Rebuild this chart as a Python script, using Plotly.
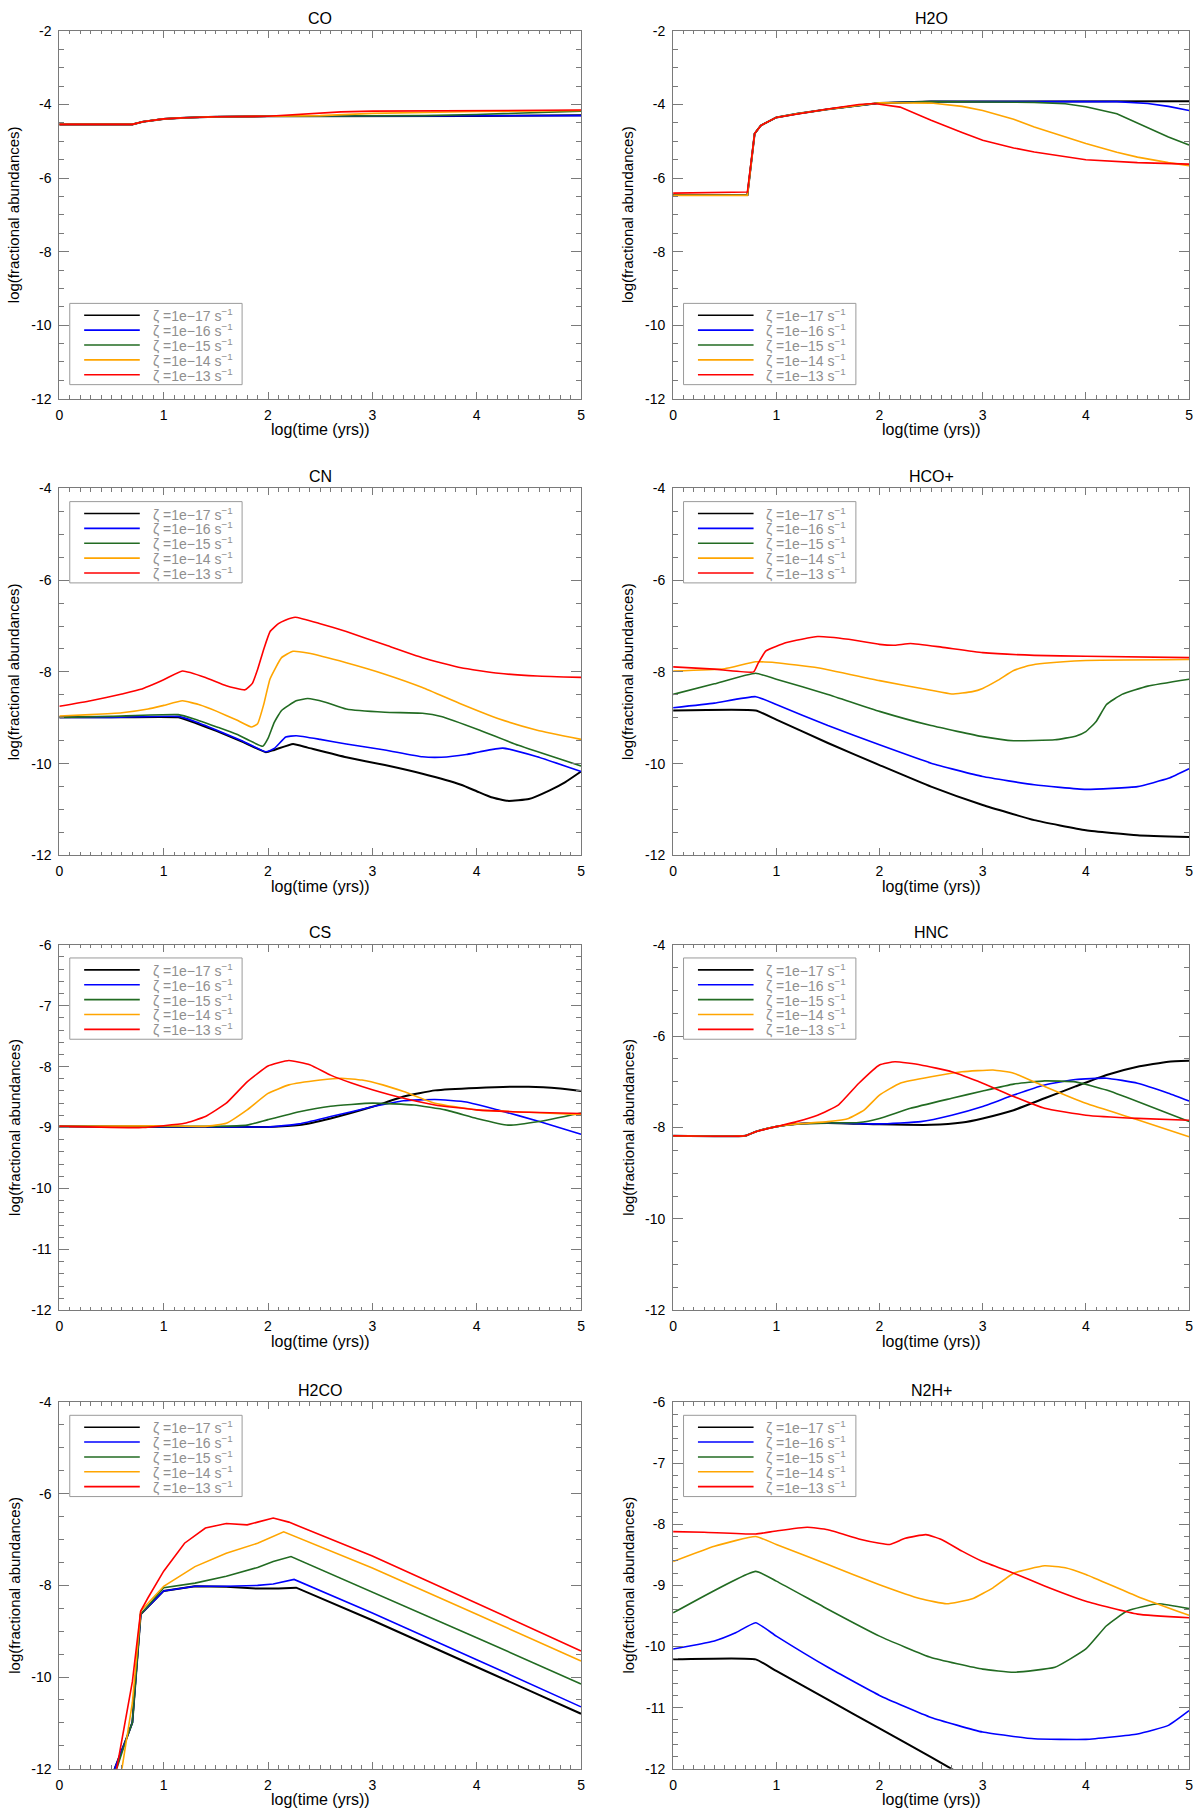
import plotly.graph_objects as go

# ---------------- data (log time [yr] , log fractional abundance) ----------------
# zeta = 1e-17, 1e-16, 1e-15, 1e-14, 1e-13 s^-1
CO_T17 = [0, 0.7, 0.8, 0.9, 1.0, 1.2, 1.5, 2.0, 3.0, 4.0, 5.0]
CO_Y17 = [-4.54, -4.54, -4.47, -4.42, -4.39, -4.36, -4.33, -4.32, -4.32, -4.31, -4.29]
CO_T16 = [0, 0.7, 0.8, 0.9, 1.0, 1.2, 1.5, 2.0, 3.0, 4.0, 5.0]
CO_Y16 = [-4.54, -4.54, -4.47, -4.42, -4.39, -4.36, -4.33, -4.32, -4.32, -4.31, -4.30]
CO_T15 = [0, 0.7, 0.8, 0.9, 1.0, 1.2, 1.5, 2.0, 2.5, 3.0, 3.5, 4.0, 4.5, 5.0]
CO_Y15 = [-4.54, -4.54, -4.47, -4.42, -4.39, -4.36, -4.33, -4.32, -4.32, -4.31, -4.30, -4.27, -4.23, -4.18]
CO_T14 = [0, 0.7, 0.8, 0.9, 1.0, 1.2, 1.5, 2.0, 2.5, 3.0, 3.5, 4.0, 5.0]
CO_Y14 = [-4.54, -4.54, -4.47, -4.42, -4.39, -4.36, -4.33, -4.32, -4.30, -4.24, -4.21, -4.19, -4.16]
CO_T13 = [0, 0.7, 0.8, 0.9, 1.0, 1.2, 1.5, 2.0, 2.3, 2.7, 3.0, 4.0, 5.0]
CO_Y13 = [-4.54, -4.54, -4.47, -4.42, -4.39, -4.36, -4.33, -4.32, -4.26, -4.20, -4.18, -4.16, -4.15]

H2O_T17 = [0, 0.72, 0.79, 0.85, 1.0, 1.2, 1.5, 1.8, 2.0, 2.5, 5.0]
H2O_Y17 = [-6.46, -6.46, -4.79, -4.57, -4.35, -4.25, -4.13, -4.02, -3.96, -3.92, -3.91]
H2O_T16 = [0, 0.72, 0.79, 0.85, 1.0, 1.2, 1.5, 1.8, 2.0, 2.5, 4.3, 4.6, 4.8, 5.0]
H2O_Y16 = [-6.46, -6.46, -4.79, -4.57, -4.35, -4.25, -4.13, -4.02, -3.96, -3.92, -3.92, -3.97, -4.05, -4.16]
H2O_T15 = [0, 0.72, 0.79, 0.85, 1.0, 1.2, 1.5, 1.8, 2.0, 2.5, 3.5, 3.8, 4.0, 4.3, 4.6, 4.8, 5.0]
H2O_Y15 = [-6.46, -6.46, -4.79, -4.57, -4.35, -4.25, -4.13, -4.02, -3.96, -3.92, -3.94, -3.98, -4.06, -4.25, -4.62, -4.88, -5.10]
H2O_T14 = [0, 0.72, 0.79, 0.85, 1.0, 1.2, 1.5, 1.8, 2.0, 2.5, 2.8, 3.0, 3.3, 3.5, 3.8, 4.0, 4.3, 4.5, 4.8, 5.0]
H2O_Y14 = [-6.47, -6.47, -4.79, -4.57, -4.35, -4.25, -4.13, -4.02, -3.95, -3.96, -4.05, -4.16, -4.40, -4.61, -4.88, -5.06, -5.30, -5.43, -5.58, -5.66]
H2O_T13 = [0, 0.72, 0.79, 0.85, 1.0, 1.2, 1.5, 1.8, 1.95, 2.2, 2.5, 2.8, 3.0, 3.3, 3.5, 4.0, 4.5, 5.0]
H2O_Y13 = [-6.41, -6.38, -4.79, -4.57, -4.35, -4.25, -4.12, -4.00, -3.97, -4.07, -4.43, -4.76, -4.97, -5.18, -5.29, -5.50, -5.58, -5.62]

CN_T17 = [0, 0.5, 1.14, 1.3, 1.51, 1.75, 1.98, 2.06, 2.24, 2.38, 2.75, 3.12, 3.48, 3.85, 4.0, 4.14, 4.3, 4.5, 4.7, 4.85, 5.0]
CN_Y17 = [-8.99, -8.99, -8.99, -9.11, -9.29, -9.52, -9.75, -9.70, -9.57, -9.65, -9.86, -10.03, -10.22, -10.46, -10.60, -10.73, -10.81, -10.77, -10.58, -10.40, -10.17]
CN_T16 = [0, 0.5, 1.14, 1.3, 1.51, 1.75, 1.98, 2.06, 2.17, 2.27, 2.5, 2.75, 3.12, 3.48, 3.66, 3.9, 4.03, 4.25, 4.58, 5.0]
CN_Y16 = [-8.99, -8.99, -8.97, -9.08, -9.27, -9.50, -9.74, -9.67, -9.42, -9.39, -9.47, -9.57, -9.70, -9.85, -9.86, -9.80, -9.74, -9.66, -9.85, -10.17]
CN_T15 = [0, 0.5, 1.14, 1.3, 1.51, 1.7, 1.95, 2.0, 2.06, 2.13, 2.27, 2.38, 2.55, 2.75, 3.12, 3.48, 3.66, 4.03, 4.4, 5.0]
CN_Y15 = [-8.99, -8.97, -8.93, -9.03, -9.20, -9.36, -9.62, -9.45, -9.10, -8.84, -8.63, -8.58, -8.66, -8.81, -8.88, -8.90, -8.97, -9.27, -9.60, -10.05]
CN_T14 = [0, 0.3, 0.6, 0.85, 1.0, 1.18, 1.35, 1.51, 1.7, 1.84, 1.9, 1.96, 2.02, 2.13, 2.24, 2.38, 2.75, 3.12, 3.48, 3.85, 4.21, 4.58, 5.0]
CN_Y14 = [-8.96, -8.93, -8.89, -8.81, -8.73, -8.63, -8.72, -8.86, -9.05, -9.20, -9.13, -8.70, -8.15, -7.69, -7.55, -7.59, -7.80, -8.05, -8.34, -8.70, -9.02, -9.27, -9.47]
CN_T13 = [0, 0.3, 0.6, 0.78, 1.0, 1.18, 1.4, 1.6, 1.78, 1.85, 1.9, 1.96, 2.02, 2.1, 2.17, 2.26, 2.5, 2.75, 3.12, 3.48, 3.85, 4.21, 4.58, 5.0]
CN_Y13 = [-8.75, -8.63, -8.48, -8.38, -8.17, -7.98, -8.12, -8.30, -8.39, -8.25, -7.95, -7.50, -7.12, -6.95, -6.87, -6.81, -6.95, -7.12, -7.41, -7.69, -7.91, -8.03, -8.09, -8.12]

HCOP_T17 = [0, 0.8, 1.0, 1.5, 2.0, 2.5, 3.0, 3.5, 4.0, 4.5, 5.0]
HCOP_Y17 = [-8.84, -8.84, -9.04, -9.55, -10.03, -10.50, -10.90, -11.23, -11.45, -11.56, -11.60]
HCOP_T16 = [0, 0.4, 0.8, 1.0, 1.5, 2.0, 2.5, 3.0, 3.5, 4.0, 4.5, 4.8, 5.0]
HCOP_Y16 = [-8.78, -8.68, -8.54, -8.71, -9.17, -9.59, -9.99, -10.28, -10.46, -10.56, -10.50, -10.32, -10.11]
HCOP_T15 = [0, 0.4, 0.8, 1.0, 1.5, 2.0, 2.5, 3.0, 3.3, 3.7, 3.9, 4.0, 4.1, 4.2, 4.35, 4.6, 5.0]
HCOP_Y15 = [-8.49, -8.26, -8.03, -8.16, -8.49, -8.86, -9.17, -9.41, -9.50, -9.48, -9.40, -9.30, -9.08, -8.71, -8.49, -8.31, -8.16]
HCOP_T14 = [0, 0.5, 0.8, 1.0, 1.4, 2.0, 2.5, 2.7, 2.9, 3.0, 3.15, 3.3, 3.45, 3.6, 4.0, 5.0]
HCOP_Y14 = [-7.98, -7.93, -7.78, -7.80, -7.91, -8.19, -8.40, -8.48, -8.43, -8.36, -8.18, -7.97, -7.86, -7.81, -7.75, -7.73]
HCOP_T13 = [0, 0.4, 0.78, 0.82, 0.9, 1.1, 1.4, 1.7, 2.0, 2.15, 2.3, 2.6, 3.0, 3.5, 4.0, 5.0]
HCOP_Y13 = [-7.89, -7.94, -8.00, -7.83, -7.54, -7.36, -7.23, -7.29, -7.40, -7.42, -7.38, -7.46, -7.58, -7.64, -7.66, -7.69]

CS_T17 = [0, 2.0, 2.3, 2.6, 3.0, 3.3, 3.6, 4.0, 4.5, 4.8, 5.0]
CS_Y17 = [-8.98, -8.99, -8.96, -8.85, -8.66, -8.49, -8.39, -8.35, -8.33, -8.36, -8.40]
CS_T16 = [0, 1.5, 2.0, 2.3, 2.6, 3.0, 3.3, 3.6, 3.9, 4.2, 4.6, 5.0]
CS_Y16 = [-8.98, -8.99, -8.99, -8.94, -8.82, -8.66, -8.56, -8.54, -8.58, -8.71, -8.90, -9.11]
CS_T15 = [0, 1.5, 1.8, 2.0, 2.3, 2.6, 3.0, 3.4, 3.7, 4.0, 4.3, 4.6, 5.0]
CS_Y15 = [-8.98, -8.98, -8.96, -8.87, -8.74, -8.65, -8.60, -8.63, -8.71, -8.85, -8.96, -8.90, -8.76]
CS_T14 = [0, 1.0, 1.4, 1.6, 1.8, 2.0, 2.2, 2.5, 2.7, 2.9, 3.1, 3.3, 3.6, 4.0, 4.5, 5.0]
CS_Y14 = [-8.98, -8.97, -8.98, -8.93, -8.71, -8.44, -8.30, -8.22, -8.19, -8.22, -8.30, -8.41, -8.60, -8.71, -8.75, -8.79]
CS_T13 = [0, 0.8, 1.0, 1.2, 1.4, 1.6, 1.8, 2.0, 2.2, 2.4, 2.6, 2.8, 3.0, 3.3, 3.6, 4.0, 4.5, 5.0]
CS_Y13 = [-8.98, -9.00, -8.97, -8.93, -8.82, -8.60, -8.25, -7.99, -7.90, -7.97, -8.14, -8.27, -8.38, -8.52, -8.63, -8.71, -8.75, -8.77]

HNC_T17 = [0, 0.7, 0.8, 1.0, 1.2, 1.5, 2.0, 2.5, 2.8, 3.0, 3.3, 3.6, 3.9, 4.2, 4.5, 4.8, 5.0]
HNC_Y17 = [-8.18, -8.18, -8.09, -7.98, -7.92, -7.90, -7.93, -7.94, -7.89, -7.80, -7.62, -7.36, -7.10, -6.85, -6.67, -6.56, -6.54]
HNC_T16 = [0, 0.7, 0.8, 1.0, 1.2, 1.5, 2.0, 2.4, 2.7, 3.0, 3.3, 3.6, 3.9, 4.2, 4.5, 4.8, 5.0]
HNC_Y16 = [-8.18, -8.18, -8.09, -7.98, -7.92, -7.90, -7.92, -7.87, -7.73, -7.54, -7.29, -7.07, -6.95, -6.92, -7.03, -7.25, -7.42]
HNC_T15 = [0, 0.7, 0.8, 1.0, 1.2, 1.5, 1.8, 2.0, 2.3, 2.7, 3.0, 3.3, 3.6, 3.9, 4.2, 4.5, 5.0]
HNC_Y15 = [-8.18, -8.18, -8.09, -7.98, -7.92, -7.90, -7.89, -7.80, -7.58, -7.36, -7.20, -7.05, -6.98, -7.00, -7.18, -7.43, -7.87]
HNC_T14 = [0, 0.7, 0.8, 1.0, 1.2, 1.5, 1.7, 1.85, 2.0, 2.2, 2.5, 2.8, 3.1, 3.3, 3.6, 4.0, 4.5, 5.0]
HNC_Y14 = [-8.18, -8.18, -8.09, -7.98, -7.92, -7.87, -7.80, -7.62, -7.29, -7.03, -6.89, -6.78, -6.74, -6.81, -7.10, -7.47, -7.83, -8.20]
HNC_T13 = [0, 0.7, 0.8, 1.0, 1.2, 1.4, 1.6, 1.8, 2.0, 2.15, 2.4, 2.7, 3.0, 3.3, 3.6, 4.0, 4.5, 5.0]
HNC_Y13 = [-8.18, -8.18, -8.09, -7.98, -7.87, -7.73, -7.51, -7.03, -6.63, -6.56, -6.63, -6.78, -7.03, -7.32, -7.58, -7.73, -7.80, -7.84]

H2CO_T17 = [0.45, 0.53, 0.65, 0.7, 0.78, 1.0, 1.3, 1.6, 1.9, 2.1, 2.27, 3.0, 4.0, 5.0]
H2CO_Y17 = [-12.6, -12.0, -11.3, -10.99, -8.63, -8.12, -8.02, -8.03, -8.07, -8.07, -8.05, -8.76, -9.78, -10.80]
H2CO_T16 = [0.45, 0.53, 0.65, 0.7, 0.78, 1.0, 1.3, 1.6, 1.9, 2.05, 2.25, 3.0, 4.0, 5.0]
H2CO_Y16 = [-12.6, -12.0, -11.3, -10.99, -8.63, -8.12, -8.02, -8.02, -8.00, -7.97, -7.87, -8.60, -9.62, -10.65]
H2CO_T15 = [0.45, 0.55, 0.65, 0.7, 0.78, 1.0, 1.3, 1.6, 1.9, 2.05, 2.22, 3.0, 4.0, 5.0]
H2CO_Y15 = [-12.6, -12.0, -11.3, -10.99, -8.63, -8.05, -7.95, -7.80, -7.61, -7.48, -7.37, -8.14, -9.14, -10.15]
H2CO_T14 = [0.5, 0.6, 0.7, 0.78, 1.0, 1.3, 1.6, 1.9, 2.15, 3.0, 4.0, 5.0]
H2CO_Y14 = [-12.6, -12.0, -10.56, -8.56, -8.02, -7.59, -7.30, -7.08, -6.83, -7.62, -8.63, -9.65]
H2CO_T13 = [0.45, 0.55, 0.7, 0.78, 0.85, 1.0, 1.2, 1.4, 1.6, 1.8, 1.9, 2.05, 2.2, 3.0, 4.0, 5.0]
H2CO_Y13 = [-12.6, -12.0, -10.1, -8.56, -8.27, -7.69, -7.08, -6.75, -6.65, -6.68, -6.62, -6.53, -6.62, -7.36, -8.39, -9.43]

N2HP_T17 = [0, 0.8, 1.0, 1.5, 2.0, 2.5, 2.8]
N2HP_Y17 = [-10.21, -10.21, -10.40, -10.87, -11.34, -11.81, -12.10]
N2HP_T16 = [0, 0.2, 0.4, 0.6, 0.8, 1.0, 1.5, 2.0, 2.5, 3.0, 3.5, 4.0, 4.5, 4.8, 5.0]
N2HP_Y16 = [-10.04, -9.98, -9.91, -9.78, -9.61, -9.83, -10.34, -10.80, -11.16, -11.40, -11.51, -11.52, -11.43, -11.29, -11.05]
N2HP_T15 = [0, 0.8, 1.0, 1.5, 2.0, 2.5, 3.0, 3.3, 3.7, 4.0, 4.2, 4.4, 4.7, 5.0]
N2HP_Y15 = [-9.45, -8.77, -8.93, -9.39, -9.83, -10.18, -10.37, -10.42, -10.34, -10.04, -9.66, -9.42, -9.30, -9.38]
N2HP_T14 = [0, 0.4, 0.8, 1.0, 1.5, 2.0, 2.4, 2.65, 2.9, 3.1, 3.3, 3.6, 3.8, 4.0, 4.5, 5.0]
N2HP_Y14 = [-8.61, -8.36, -8.20, -8.33, -8.66, -8.99, -9.22, -9.30, -9.22, -9.04, -8.80, -8.68, -8.71, -8.82, -9.18, -9.49]
N2HP_T13 = [0, 0.3, 0.8, 1.0, 1.3, 1.5, 1.8, 2.0, 2.1, 2.25, 2.45, 2.6, 2.8, 3.0, 3.3, 3.6, 4.0, 4.5, 5.0]
N2HP_Y13 = [-8.12, -8.13, -8.16, -8.11, -8.05, -8.09, -8.24, -8.31, -8.33, -8.23, -8.17, -8.25, -8.44, -8.61, -8.80, -9.01, -9.26, -9.47, -9.53]

SPECIES = ["CO", "H2O", "CN", "HCO+", "CS", "HNC", "H2CO", "N2H+"]
SERIES = {
    "CO": [(CO_T17, CO_Y17), (CO_T16, CO_Y16), (CO_T15, CO_Y15), (CO_T14, CO_Y14), (CO_T13, CO_Y13)],
    "H2O": [(H2O_T17, H2O_Y17), (H2O_T16, H2O_Y16), (H2O_T15, H2O_Y15), (H2O_T14, H2O_Y14), (H2O_T13, H2O_Y13)],
    "CN": [(CN_T17, CN_Y17), (CN_T16, CN_Y16), (CN_T15, CN_Y15), (CN_T14, CN_Y14), (CN_T13, CN_Y13)],
    "HCO+": [(HCOP_T17, HCOP_Y17), (HCOP_T16, HCOP_Y16), (HCOP_T15, HCOP_Y15), (HCOP_T14, HCOP_Y14), (HCOP_T13, HCOP_Y13)],
    "CS": [(CS_T17, CS_Y17), (CS_T16, CS_Y16), (CS_T15, CS_Y15), (CS_T14, CS_Y14), (CS_T13, CS_Y13)],
    "HNC": [(HNC_T17, HNC_Y17), (HNC_T16, HNC_Y16), (HNC_T15, HNC_Y15), (HNC_T14, HNC_Y14), (HNC_T13, HNC_Y13)],
    "H2CO": [(H2CO_T17, H2CO_Y17), (H2CO_T16, H2CO_Y16), (H2CO_T15, H2CO_Y15), (H2CO_T14, H2CO_Y14), (H2CO_T13, H2CO_Y13)],
    "N2H+": [(N2HP_T17, N2HP_Y17), (N2HP_T16, N2HP_Y16), (N2HP_T15, N2HP_Y15), (N2HP_T14, N2HP_Y14), (N2HP_T13, N2HP_Y13)],
}
ZETA_LABELS = ["ζ =1e−17 s<sup>−1</sup>", "ζ =1e−16 s<sup>−1</sup>", "ζ =1e−15 s<sup>−1</sup>",
               "ζ =1e−14 s<sup>−1</sup>", "ζ =1e−13 s<sup>−1</sup>"]
Y_TOP = {"CO": -2, "H2O": -2, "CN": -4, "HCO+": -4, "CS": -6, "HNC": -4, "H2CO": -4, "N2H+": -6}
X_TICKS = [0, 1, 2, 3, 4, 5]

# ---------------- style ----------------
COLORS = ["#000000", "#0000ff", "#226b22", "#ffa500", "#ff0000"]
WIDTHS = [2.0, 1.6, 1.6, 1.6, 1.6]
SMOOTH = {"CO": False, "H2O": False, "CN": True, "HCO+": True, "CS": True, "HNC": True, "H2CO": False, "N2H+": True}
LEGEND_BOTTOM = {"CO": True, "H2O": True}
FONT = "Liberation Sans, Arial, Helvetica, sans-serif"
AX = "#7a7a7a"

W, H = 1200, 1817
COLS = [(55.7, 580.9), (673.6, 1193.0)]
ROWS = [(23.2, 394.2), (484.6, 855.0), (945.0, 1314.0), (1406.4, 1776.4)]

fig = go.Figure()
annotations = []
shapes = []

for i, sp in enumerate(SPECIES):
    r, c = divmod(i, 2)
    n = "" if i == 0 else str(i + 1)
    x0, x1 = COLS[c]
    t0, b0 = ROWS[r]
    pw, ph = x1 - x0, b0 - t0
    xa, ya = "x" + n, "y" + n

    for k, (tt, yy) in enumerate(SERIES[sp]):
        fig.add_trace(go.Scatter(
            x=tt, y=yy, mode="lines", xaxis=xa, yaxis=ya, showlegend=False,
            name=ZETA_LABELS[k].replace("<sup>", "").replace("</sup>", ""),
            line=dict(color=COLORS[k], width=WIDTHS[k],
                      shape="spline" if SMOOTH[sp] else "linear", smoothing=0.4),
        ))

    ytop = Y_TOP[sp]
    major = 1 if ytop == -6 else 2
    minor = 0.2 if ytop == -6 else 0.5
    yvals = list(range(-12, ytop + 1, major))

    fig.update_layout(**{
        "xaxis" + n: dict(
            domain=[x0 / W, x1 / W], anchor=ya, range=[0, 5],
            tickvals=X_TICKS, ticktext=[str(v) for v in X_TICKS],
            showline=True, linecolor=AX, linewidth=1, mirror="ticks",
            ticks="inside", ticklen=7, tickwidth=1, tickcolor=AX,
            minor=dict(ticks="inside", dtick=0.1, tick0=0, ticklen=3.5, tickcolor=AX, tickwidth=1),
            showgrid=False, zeroline=False, ticklabelstandoff=3, ticklabeloverflow="allow",
            tickfont=dict(family=FONT, size=14, color="#000000"),
        ),
        "yaxis" + n: dict(
            domain=[1 - b0 / H, 1 - t0 / H], anchor=xa, range=[-12, ytop],
            tickvals=yvals, ticktext=["-" + str(abs(v)) for v in yvals],
            showline=True, linecolor=AX, linewidth=1, mirror="ticks",
            ticks="inside", ticklen=10, tickwidth=1, tickcolor=AX,
            minor=dict(ticks="inside", dtick=minor, tick0=-12, ticklen=5, tickcolor=AX, tickwidth=1),
            showgrid=False, zeroline=False, ticklabelstandoff=4,
            tickfont=dict(family=FONT, size=14, color="#000000"),
        ),
    })

    xd, yd = xa + " domain", ya + " domain"
    # subplot title
    annotations.append(dict(text=sp, x=0.5, y=1, xref=xd, yref=yd, xanchor="center", yanchor="middle",
                            yshift=12, showarrow=False, font=dict(family=FONT, size=16, color="#000000")))
    # axis titles
    annotations.append(dict(text="log(time (yrs))", x=0.5, y=0, xref=xd, yref=yd, xanchor="center",
                            yanchor="middle", yshift=-31, showarrow=False,
                            font=dict(family=FONT, size=16, color="#000000")))
    annotations.append(dict(text="log(fractional abundances)", x=0, y=0.5, xref=xd, yref=yd,
                            xanchor="center", yanchor="middle", xshift=-45, textangle=-90, showarrow=False,
                            font=dict(family=FONT, size=15, color="#000000")))

    # in-panel key (box, line samples, labels)
    box_h = 82.0
    box_top = (ph - 14.2 - box_h) if LEGEND_BOTTOM.get(sp) else 13.4
    shapes.append(dict(type="rect", xref=xd, yref=yd,
                       x0=10.5 / pw, x1=184.0 / pw, y0=1 - box_top / ph, y1=1 - (box_top + box_h) / ph,
                       line=dict(color="#9a9a9a", width=1), fillcolor="rgba(0,0,0,0)", layer="above"))
    for k in range(5):
        yc = 1 - (box_top + 12.0 + 15.0 * k) / ph
        shapes.append(dict(type="line", xref=xd, yref=yd, x0=25.0 / pw, x1=81.0 / pw, y0=yc, y1=yc,
                           line=dict(color=COLORS[k], width=1.6), layer="above"))
        annotations.append(dict(text=ZETA_LABELS[k], x=92.0 / pw, y=yc, xref=xd, yref=yd, xanchor="left",
                                yanchor="middle", showarrow=False,
                                font=dict(family=FONT, size=14, color="#8f8f8f")))

fig.update_layout(
    width=W, height=H, margin=dict(l=0, r=0, t=0, b=0),
    paper_bgcolor="#ffffff", plot_bgcolor="#ffffff",
    showlegend=False, annotations=annotations, shapes=shapes,
    font=dict(family=FONT, size=14, color="#000000"),
)

fig.write_html(
    "out.html",
    config={"displayModeBar": False},
    post_script="document.body.style.margin='0';document.body.style.padding='0';"
                "document.documentElement.style.overflow='hidden';",
)
